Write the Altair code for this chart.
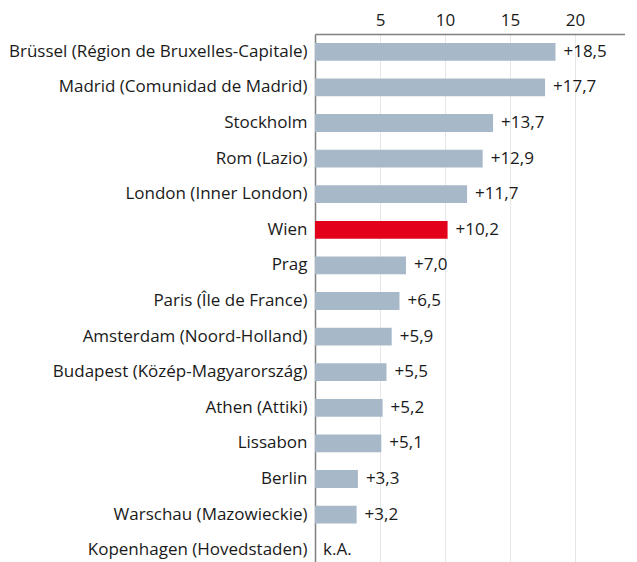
import altair as alt
import pandas as pd

regions = [
    "Brüssel (Région de Bruxelles-Capitale)",
    "Madrid (Comunidad de Madrid)",
    "Stockholm",
    "Rom (Lazio)",
    "London (Inner London)",
    "Wien",
    "Prag",
    "Paris (Île de France)",
    "Amsterdam (Noord-Holland)",
    "Budapest (Közép-Magyarország)",
    "Athen (Attiki)",
    "Lissabon",
    "Berlin",
    "Warschau (Mazowieckie)",
    "Kopenhagen (Hovedstaden)",
]
values = [18.5, 17.7, 13.7, 12.9, 11.7, 10.2, 7.0, 6.5, 5.9, 5.5, 5.2, 5.1, 3.3, 3.2, None]
highlight = "Wien"
x_ticks = [5, 10, 15, 20]

labels = ["k.A." if v is None else "+" + f"{v:.1f}".replace(".", ",") for v in values]
df = pd.DataFrame({
    "region": regions,
    "value": values,
    "label": labels,
    "pos": [0 if v is None else v for v in values],
    "hl": ["ja" if r == highlight else "nein" for r in regions],
})

FONT = "Open Sans"
FS = 17.0

y_enc = alt.Y(
    "region:N",
    sort=regions,
    title=None,
    scale=alt.Scale(paddingInner=0.5, paddingOuter=0.25),
    axis=alt.Axis(
        ticks=False,
        labelPadding=8,
        labelFontSize=FS,
        labelFont=FONT,
        labelColor="#1a1a1a",
        domainColor="#808080",
        domainWidth=1.5,
        labelLimit=400,
    ),
)

x_scale = alt.Scale(domain=[0, 23.85], nice=False, zero=True)

bars = alt.Chart(df).mark_bar().encode(
    x=alt.X(
        "value:Q",
        scale=x_scale,
        title=None,
        axis=alt.Axis(
            orient="top",
            values=x_ticks,
            ticks=False,
            labelPadding=5,
            labelFontSize=FS,
            labelFont=FONT,
            labelColor="#1a1a1a",
            domainColor="#808080",
            domainWidth=1.5,
            grid=True,
            gridColor="#e6e6e6",
            gridWidth=1,
        ),
    ),
    y=y_enc,
    color=alt.Color(
        "hl:N",
        scale=alt.Scale(domain=["ja", "nein"], range=["#e2001a", "#a7b8c8"]),
        legend=None,
    ),
)

text = alt.Chart(df).mark_text(
    align="left", baseline="middle", dx=8, fontSize=FS, font=FONT, color="#1a1a1a"
).encode(
    x=alt.X("pos:Q", scale=x_scale),
    y=alt.Y("region:N", sort=regions),
    text="label:N",
)

chart = (
    alt.layer(bars, text)
    .properties(width=310, height=534, padding={"top": 3, "left": 0, "right": 0, "bottom": 0})
    .configure_view(stroke=None)
)

chart.save("out.html", embed_options={"renderer": "svg", "actions": False})
